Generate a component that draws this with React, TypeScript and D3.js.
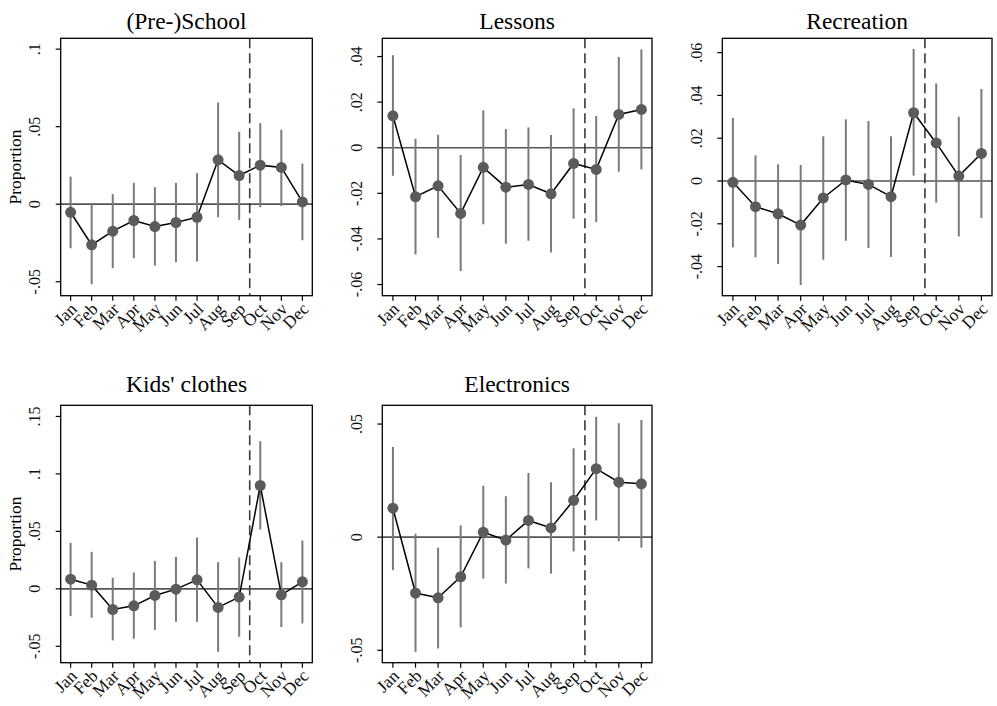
import React from 'react';
import * as d3 from 'd3';

const months = ['Jan', 'Feb', 'Mar', 'Apr', 'May', 'Jun', 'Jul', 'Aug', 'Sep', 'Oct', 'Nov', 'Dec'];
const titles = ['(Pre-)School', 'Lessons', 'Recreation', "Kids' clothes", 'Electronics'];

const schoolEst = [-0.0052, -0.0262, -0.0174, -0.0105, -0.0144, -0.0118, -0.0084, 0.0286, 0.0185, 0.0252, 0.0237, 0.0015];
const schoolLo = [-0.0284, -0.0516, -0.0413, -0.0348, -0.0396, -0.0374, -0.037, -0.0084, -0.0101, -0.0019, -0.0011, -0.0232];
const schoolHi = [0.0178, 0.0001, 0.0065, 0.0138, 0.011, 0.0138, 0.02, 0.0656, 0.0467, 0.0523, 0.048, 0.0262];

const lessonsEst = [0.014, -0.0215, -0.0167, -0.0288, -0.0086, -0.0173, -0.0161, -0.0202, -0.0069, -0.0095, 0.0146, 0.0168];
const lessonsLo = [-0.0123, -0.0468, -0.0395, -0.0541, -0.0336, -0.0421, -0.0408, -0.0459, -0.0311, -0.0326, -0.0105, -0.0095];
const lessonsHi = [0.0406, 0.0039, 0.0057, -0.0032, 0.0164, 0.0082, 0.0089, 0.0056, 0.0173, 0.0139, 0.0398, 0.0431];

const recEst = [-0.0006, -0.012, -0.0153, -0.0206, -0.0079, 0.0005, -0.0016, -0.0073, 0.0319, 0.0178, 0.0023, 0.0129];
const recLo = [-0.031, -0.0357, -0.0388, -0.0486, -0.0368, -0.0279, -0.0313, -0.0355, 0.0025, -0.0101, -0.0259, -0.0173];
const recHi = [0.0295, 0.012, 0.0078, 0.0075, 0.0209, 0.0288, 0.028, 0.0209, 0.0617, 0.0456, 0.03, 0.043];

const kidsEst = [0.0084, 0.0032, -0.018, -0.0148, -0.0058, -0.0003, 0.0078, -0.0162, -0.0072, 0.0899, -0.0052, 0.0061];
const kidsLo = [-0.0238, -0.0252, -0.0449, -0.0435, -0.0357, -0.0287, -0.0287, -0.0548, -0.0417, 0.0516, -0.0333, -0.0301];
const kidsHi = [0.04, 0.0322, 0.0096, 0.0142, 0.0243, 0.0278, 0.0446, 0.0232, 0.0272, 0.1284, 0.0232, 0.042];

const elecEst = [0.0128, -0.0247, -0.0268, -0.0175, 0.0022, -0.0013, 0.0074, 0.0041, 0.0163, 0.0303, 0.0243, 0.0236];
const elecLo = [-0.0146, -0.0507, -0.0492, -0.0399, -0.0183, -0.0205, -0.0138, -0.0161, -0.0063, 0.0074, -0.0018, -0.0047];
const elecHi = [0.0399, 0.0015, -0.0046, 0.0052, 0.0227, 0.0181, 0.0284, 0.0243, 0.0393, 0.0532, 0.0504, 0.0518];

const yDomains: [number, number][] = [
  [-0.059, 0.107],
  [-0.0649, 0.048],
  [-0.0536, 0.0667],
  [-0.0643, 0.1597],
  [-0.0555, 0.0583],
];
const yTicks = [
  [-0.05, 0, 0.05, 0.1],
  [-0.06, -0.04, -0.02, 0, 0.02, 0.04],
  [-0.04, -0.02, 0, 0.02, 0.04, 0.06],
  [-0.05, 0, 0.05, 0.1, 0.15],
  [-0.05, 0, 0.05],
];
const xDomain: [number, number] = [0.53, 12.47];
const cutoff = 9.5;

const ests = [schoolEst, lessonsEst, recEst, kidsEst, elecEst];
const los = [schoolLo, lessonsLo, recLo, kidsLo, elecLo];
const his = [schoolHi, lessonsHi, recHi, kidsHi, elecHi];

// layout of each plot region [left, right, top, bottom]
const boxes = [
  [60.7, 312.3, 38.3, 295.7],
  [382.3, 652, 38.3, 295.7],
  [722.3, 992, 38.3, 295.7],
  [60.7, 312.3, 405.3, 662.7],
  [382.3, 652, 405.3, 662.7],
];
const titleY = [28.5, 28.5, 28.5, 391.5, 391.5];
const showYTitle = [true, false, false, true, false];

const FONT = 'Liberation Serif';

function fmt(v: number): string {
  if (Math.abs(v) < 1e-12) return '0';
  const s = String(+v.toFixed(3));
  return s.replace('0.', '.');
}

function Panel({ idx }: { idx: number }) {
  const [l, r, t, b] = boxes[idx];
  const x = d3.scaleLinear().domain(xDomain).range([l, r]);
  const y = d3.scaleLinear().domain(yDomains[idx]).range([b, t]);
  const est = ests[idx];
  const lo = los[idx];
  const hi = his[idx];
  const line = d3
    .line<number>()
    .x((_, i) => x(i + 1))
    .y((d) => y(d));
  return (
    <g>
      <text
        x={(l + r) / 2}
        y={titleY[idx]}
        textAnchor="middle"
        fontFamily={FONT}
        fontWeight={400}
        fontSize={23.5}
        fill="#000"
      >
        {titles[idx]}
      </text>
      <line x1={l} x2={r} y1={y(0)} y2={y(0)} stroke="#555" strokeWidth={1.7} />
      <line
        x1={x(cutoff)}
        x2={x(cutoff)}
        y1={t}
        y2={b}
        stroke="#3a3a3a"
        strokeWidth={1.6}
        strokeDasharray="10,5"
      />
      {est.map((_, i) => (
        <line
          key={'e' + i}
          x1={x(i + 1)}
          x2={x(i + 1)}
          y1={y(lo[i])}
          y2={y(hi[i])}
          stroke="#7a7a7a"
          strokeWidth={2}
        />
      ))}
      <path d={line(est) || ''} fill="none" stroke="#000" strokeWidth={1.5} />
      {est.map((v, i) => (
        <circle key={'c' + i} cx={x(i + 1)} cy={y(v)} r={5.5} fill="#5b5b5b" />
      ))}
      <rect x={l} y={t} width={r - l} height={b - t} fill="none" stroke="#000" strokeWidth={1.3} />
      {yTicks[idx].map((v) => (
        <g key={'yt' + v}>
          <line x1={l - 5} x2={l} y1={y(v)} y2={y(v)} stroke="#000" strokeWidth={1.2} />
          <text
            transform={`translate(${l - 20.5},${y(v)}) rotate(-90)`}
            textAnchor="middle"
            fontFamily={FONT}
            fontSize={16}
            fill="#111"
          >
            {fmt(v)}
          </text>
        </g>
      ))}
      {months.map((m, i) => (
        <g key={'xt' + m}>
          <line x1={x(i + 1)} x2={x(i + 1)} y1={b} y2={b + 5} stroke="#000" strokeWidth={1.2} />
          <text
            transform={`translate(${x(i + 1) + 3},${b + 10}) rotate(-45)`}
            textAnchor="end"
            dy="0.35em"
            fontFamily={FONT}
            fontSize={17.5}
            fill="#111"
          >
            {m}
          </text>
        </g>
      ))}
      {showYTitle[idx] && (
        <text
          transform={`translate(${l - 40},${(t + b) / 2}) rotate(-90)`}
          textAnchor="middle"
          fontFamily={FONT}
          fontSize={17.5}
          fill="#000"
        >
          Proportion
        </text>
      )}
    </g>
  );
}

export default function App() {
  return (
    <svg
      width={997}
      height={706}
      viewBox="0 0 997 706"
      style={{ position: 'absolute', left: 0, top: 0, background: '#fff' }}
    >
      <rect x={0} y={0} width={997} height={706} fill="#fff" />
      {titles.map((_, i) => (
        <Panel key={i} idx={i} />
      ))}
    </svg>
  );
}
